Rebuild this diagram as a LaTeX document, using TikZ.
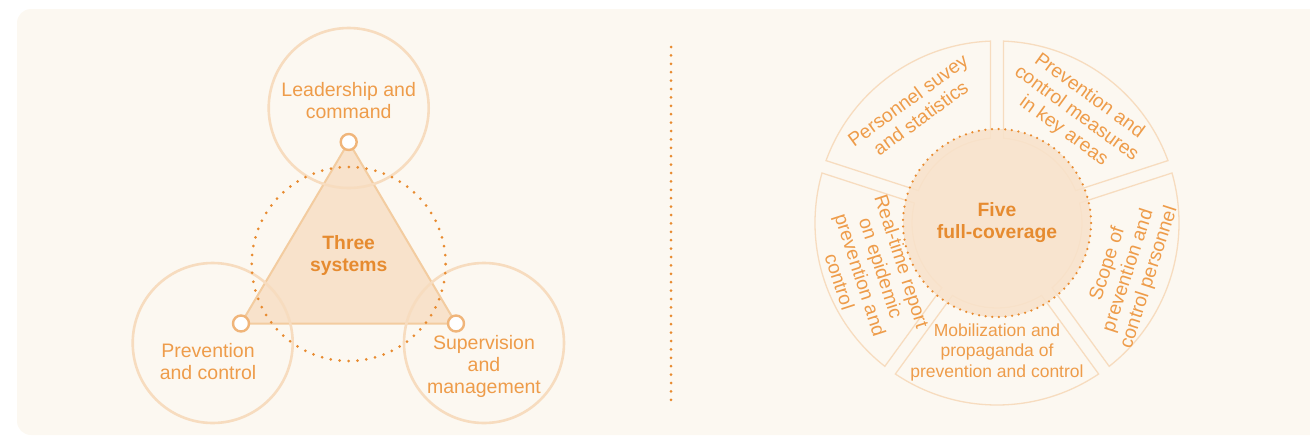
\documentclass[tikz,border=0pt]{standalone}
\usepackage{fontspec}
\setmainfont{Liberation Sans}
\usepackage{xcolor}
\usepackage{tikz}

\definecolor{panel}{HTML}{FCF8F1}
\definecolor{peach}{HTML}{F7DCBF}
\definecolor{trifill}{HTML}{F8E2CB}
\definecolor{tristroke}{HTML}{F3CCA0}
\definecolor{txt}{HTML}{EE9C4A}
\definecolor{boldtxt}{HTML}{E68B30}
\definecolor{dotc}{HTML}{E88B30}
\definecolor{knotc}{HTML}{F0B57A}

\begin{document}
\begin{tikzpicture}[x=1pt,y=1pt,
    lbl/.style={text=txt,align=center,font=\fontsize{19.5}{22}\selectfont},
    seglbl/.style={text=txt,align=center,font=\fontsize{19.3}{21.8}\selectfont},
    boldlbl/.style={text=boldtxt,align=center,font=\bfseries\fontsize{19.3}{22}\selectfont},
    big/.style={draw=peach,line width=2.6pt,circle,minimum size=160pt,inner sep=0pt},
    knot/.style={draw=knotc,fill=white,line width=2.4pt,circle,minimum size=16pt,inner sep=0pt},
    seg/.style={draw=peach,line width=1.3pt,fill=panel},
    dotty/.style={draw=dotc,line width=3pt,line cap=round,dash pattern=on 0pt off #1}]
    \useasboundingbox (0,0) rectangle (1310,-437);
    \fill[panel,rounded corners=14pt] (17,-9) rectangle (1330,-435);

    % three systems
    \coordinate (t) at (348.7,-142);
    \coordinate (l) at (241,-323.5);
    \coordinate (r) at (456,-323.5);
    \draw[fill=trifill,draw=tristroke,line width=2pt,line join=round] (t) -- (l) -- (r) -- cycle;
    \node[big] (c1) at (348.7,-108) {};
    \node[big] (c2) at (212.7,-343) {};
    \node[big] (c3) at (484,-343) {};
    \node[circle,minimum size=194pt,inner sep=0pt,dotty=8.96pt] (ring) at (348.7,-264) {};
    \node[knot] (v1) at (t) {};
    \node[knot] (v2) at (l) {};
    \node[knot] (v3) at (r) {};
    \node[lbl] (l1) at (348.7,-101) {Leadership and\\command};
    \node[lbl] (l2) at (208,-362) {Prevention\\and control};
    \node[lbl] (l3) at (484,-366) {Supervision\\and\\management};
    \node[boldlbl] (three) at (348.7,-256) {Three\\systems};

    % divider
    \coordinate (a) at (671,-47);
    \coordinate (b) at (671,-400);
    \draw[dotty=8.4pt] (a) -- (b);

    % five full-coverage
    \coordinate (o) at (997,-223);
    \foreach \ang in {54,126,198,270,342}
        \draw[seg,shift={(o)},rotate=\ang] (31.6:85) -- (33.95:182)
            arc[start angle=33.95,end angle=-33.95,radius=182] -- (-31.6:85)
            arc[start angle=-31.6,end angle=31.6,radius=85] -- cycle;
    \node[circle,fill=trifill,fill opacity=0.88,minimum size=188pt,inner sep=0pt] (five) at (o) {};
    \draw[dotty=6.64pt,line width=2.5pt] (o) circle (94);
    \node[boldlbl] (fivetxt) at (o) {Five\\full-coverage};
    \node[seglbl,rotate=-36] (s1) at ([shift={(54:135)}]o) {Prevention and\\control measures\\in key areas};
    \node[seglbl,rotate=36] (s2) at ([shift={(126:141)}]o) {Personnel suvey\\and statistics};
    \node[seglbl,rotate=-72] (s3) at ([shift={(201:135)}]o) {Real-time report\\on epidemic\\prevention and\\control};
    \node[seglbl,font=\fontsize{17.5}{20.5}\selectfont] (s4) at ([shift={(270:129)}]o) {Mobilization and\\propaganda of\\prevention and control};
    \node[seglbl,rotate=72] (s5) at ([shift={(340:140)}]o) {Scope of\\prevention and\\control personnel};
\end{tikzpicture}
\end{document}
